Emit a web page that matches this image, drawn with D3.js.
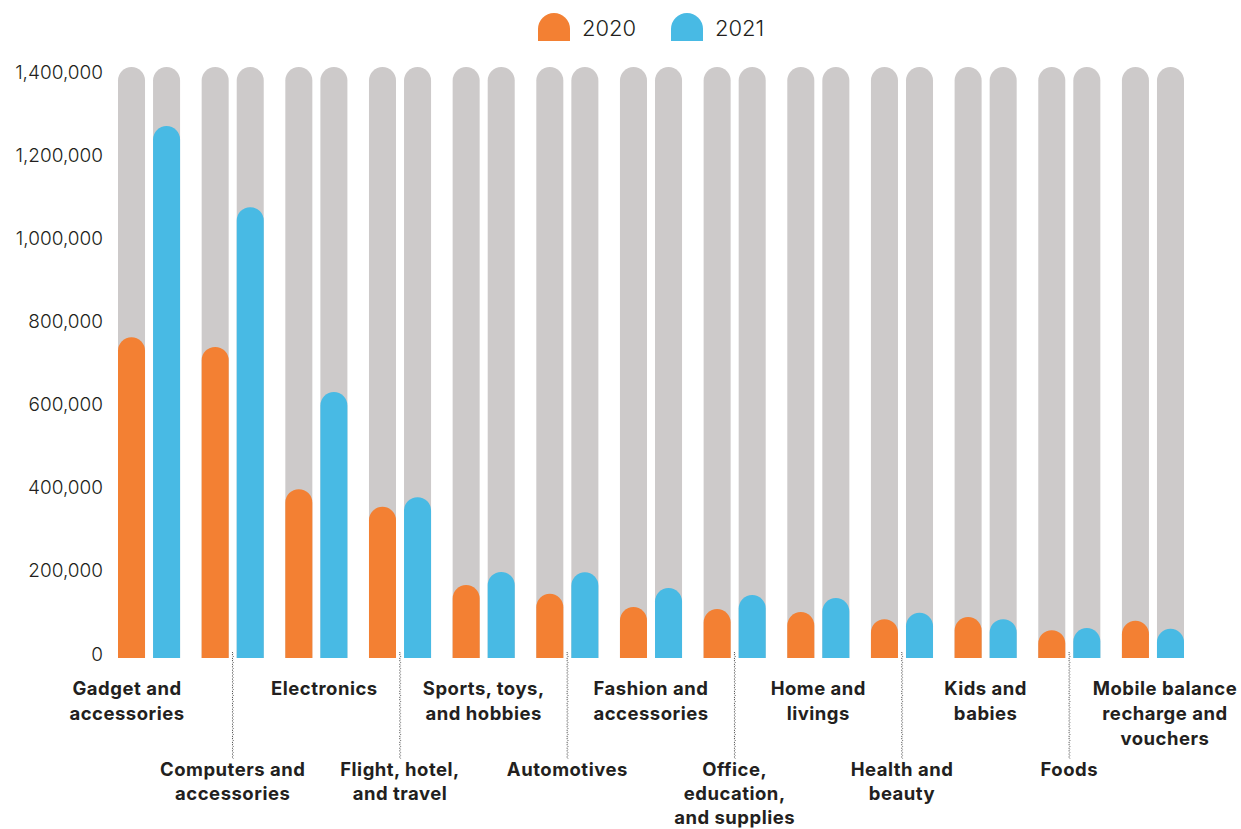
<!DOCTYPE html>
<html>
<head>
<meta charset="utf-8">
<script src="https://cdn.jsdelivr.net/npm/d3@7"></script>
<style>
  html, body { margin: 0; padding: 0; background: #ffffff; }
  svg { display: block; }
</style>
</head>
<body>
<svg id="chart" width="1241" height="829"></svg>
<script>
// Categories, each label split into lines
const categories = [
  "Gadget and accessories",
  "Computers and accessories",
  "Electronics",
  "Flight, hotel, and travel",
  "Sports, toys, and hobbies",
  "Automotives",
  "Fashion and accessories",
  "Office, education, and supplies",
  "Home and livings",
  "Health and beauty",
  "Kids and babies",
  "Foods",
  "Mobile balance recharge and vouchers"
];
const labelLines = [
  ["Gadget and", "accessories"],
  ["Computers and", "accessories"],
  ["Electronics"],
  ["Flight, hotel,", "and travel"],
  ["Sports, toys,", "and hobbies"],
  ["Automotives"],
  ["Fashion and", "accessories"],
  ["Office,", "education,", "and supplies"],
  ["Home and", "livings"],
  ["Health and", "beauty"],
  ["Kids and", "babies"],
  ["Foods"],
  ["Mobile balance", "recharge and", "vouchers"]
];
const seriesNames = ["2020", "2021"];
const values2020 = [760000, 737000, 400000, 358000, 173000, 152000, 121000, 116000, 109000, 92000, 97000, 66000, 88000];
const values2021 = [1260000, 1068000, 630000, 381000, 204000, 203000, 166000, 149000, 142000, 107000, 92000, 71000, 69000];
const maxValue = 1400000;
const tickValues = [0, 200000, 400000, 600000, 800000, 1000000, 1200000, 1400000];

const colors = { "2020": "#F38033", "2021": "#48BAE4" };
const trackColor = "#CDCACA";
const textColor = "#231F20";

const svg = d3.select("#chart");

const y = d3.scaleLinear().domain([0, maxValue]).range([658, 67]);
const yLabels = y.copy().range([654, 72]);
const x0 = d3.scaleBand().domain(categories).range([118, 1184]).paddingInner(0.258).paddingOuter(0);
const x1 = d3.scaleBand().domain(seriesNames).range([0, x0.bandwidth()]).paddingInner(0.229).paddingOuter(0);
const bw = x1.bandwidth();

// bar with a rounded cap; the top of the cap sits at the value
function capBar(x, yTop, yBase, w) {
  const rr = w / 2;
  return `M${x},${yBase}V${yTop + rr}A${rr},${rr} 0 0 1 ${x + w},${yTop + rr}V${yBase}Z`;
}

const rows = categories.map((c, i) => ({ cat: c, i, vals: { "2020": values2020[i], "2021": values2021[i] } }));

const groups = svg.append("g").selectAll("g")
  .data(rows)
  .join("g")
  .attr("transform", d => `translate(${x0(d.cat)},0)`);

// grey tracks at full scale
groups.selectAll("path.track")
  .data(seriesNames)
  .join("path")
  .attr("class", "track")
  .attr("fill", trackColor)
  .attr("d", s => capBar(x1(s), y(maxValue), y(0), bw));

// value bars
groups.selectAll("path.bar")
  .data(d => seriesNames.map(s => ({ s, v: d.vals[s] })))
  .join("path")
  .attr("class", "bar")
  .attr("fill", d => colors[d.s])
  .attr("d", d => capBar(x1(d.s), y(d.v), y(0), bw));

// y tick labels
svg.append("g").selectAll("text")
  .data(tickValues)
  .join("text")
  .attr("x", 103)
  .attr("y", d => yLabels(d))
  .attr("text-anchor", "end")
  .attr("dominant-baseline", "central")
  .attr("font-family", "Inter, 'Open Sans', sans-serif")
  .attr("font-weight", 300)
  .attr("font-size", 19)
  .attr("fill", textColor)
  .text(d => d3.format(",")(d));

// category labels: even ones sit directly below, odd ones drop lower with a leader line
const labelFont = "Inter, 'Open Sans', sans-serif";
const nudges = { 0: -22, 2: 8, 12: 12 };
const labels = svg.append("g");
rows.forEach(d => {
  const cx = x0(d.cat) + x0.bandwidth() / 2;
  const low = d.i % 2 === 1;
  const nudge = nudges[d.i] || 0;
  const top = low ? 769 : 688;
  const lineH = low ? 24 : 25;
  if (low) {
    // wavy dotted leader
    const pts = d3.range(652, 760, 1.5).map((yy, k) => [cx + (k % 2 ? 0.6 : -0.6), yy]);
    labels.append("path")
      .attr("d", d3.line()(pts))
      .attr("fill", "none")
      .attr("stroke", "#444")
      .attr("stroke-width", 0.9)
      .attr("stroke-dasharray", "1.5,1");
  }
  const t = labels.append("text")
    .attr("text-anchor", "middle")
    .attr("font-family", labelFont)
    .attr("font-weight", 700)
    .attr("font-size", 18.5)
    .attr("letter-spacing", 0.5)
    .attr("fill", textColor);
  labelLines[d.i].forEach((ln, k) => {
    t.append("tspan")
      .attr("x", cx + nudge)
      .attr("y", top + k * lineH)
      .attr("dominant-baseline", "central")
      .text(ln);
  });
});

// legend
const legend = svg.append("g");
const legendItems = [
  { s: "2020", x: 538, tx: 582 },
  { s: "2021", x: 671, tx: 715 }
];
legendItems.forEach(it => {
  legend.append("path")
    .attr("fill", colors[it.s])
    .attr("d", capBar(it.x, 13, 41, 32));
  legend.append("text")
    .attr("x", it.tx)
    .attr("y", 28)
    .attr("dominant-baseline", "central")
    .attr("font-family", "Inter, 'Open Sans', sans-serif")
    .attr("font-weight", 300)
    .attr("font-size", 22)
    .attr("fill", textColor)
    .text(it.s);
});
</script>
</body>
</html>
